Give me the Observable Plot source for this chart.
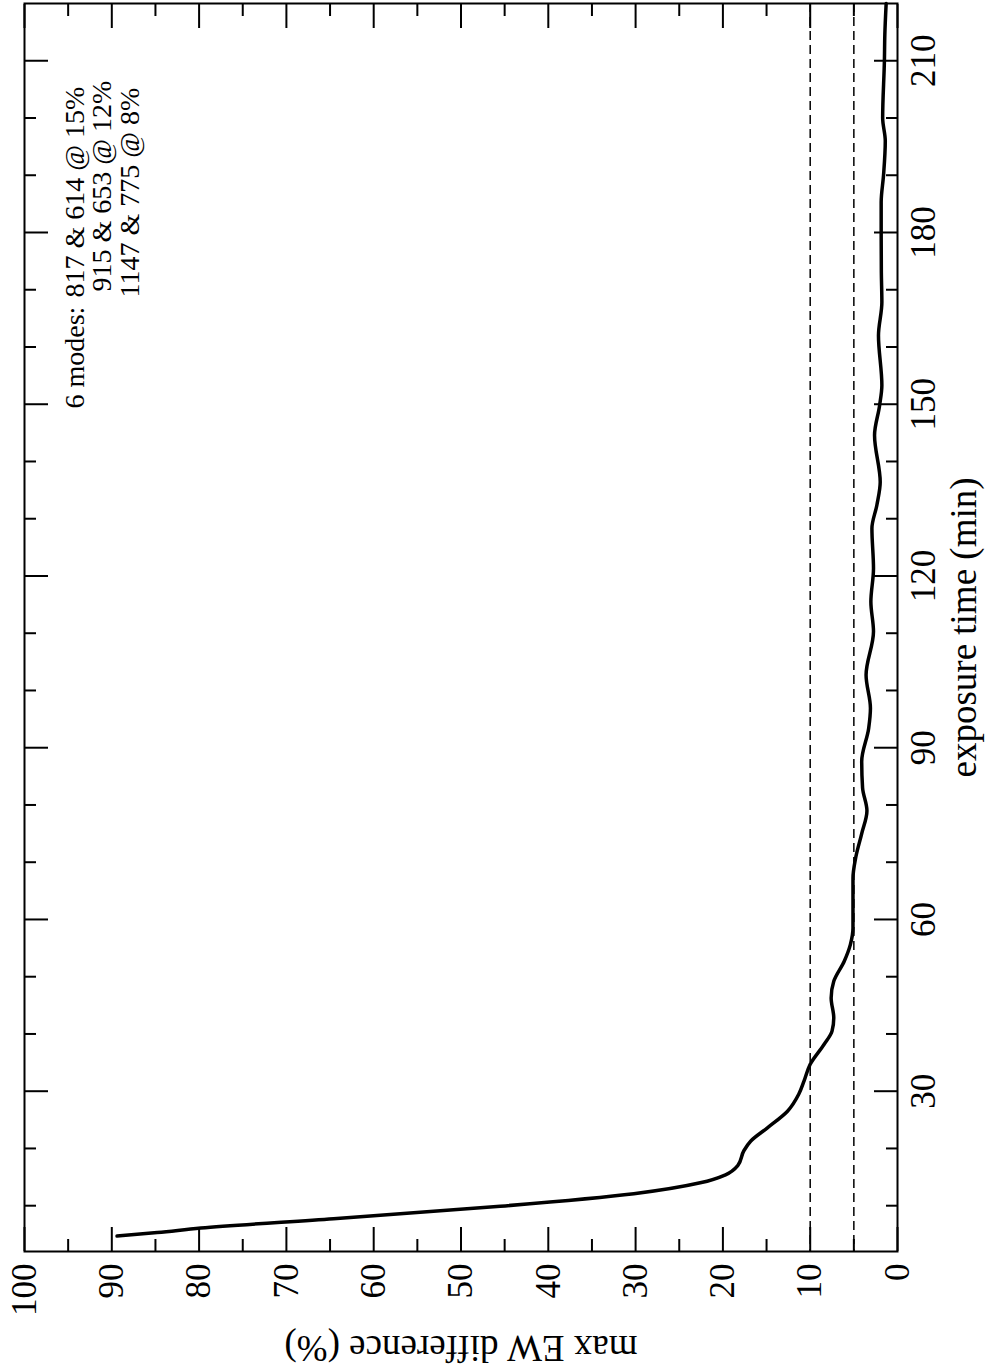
<!DOCTYPE html>
<html>
<head>
<meta charset="utf-8">
<script src="https://cdn.jsdelivr.net/npm/d3@7"></script>
<script src="https://cdn.jsdelivr.net/npm/@observablehq/plot@0.6"></script>
<style>
  html, body { margin: 0; padding: 0; background: white; }
  #chart svg { display: block; }
</style>
</head>
<body>
<div id="chart"></div>
<script>
// exposure time (min)
const timeMin = [4.7, 5.3, 6.1, 7.7, 9.9, 12.1, 14.0, 15.4, 17.0, 19.6, 21.3, 23.6, 26.5, 29.5, 31.8,
  34.7, 38.2, 40.5, 42.8, 46.3, 49.2, 52.7, 55.6, 58.5, 63.2, 67.2, 70.7, 75, 79, 83, 87.6,
  93.4, 96.9, 102.7, 110.3, 115.5, 121.3, 128.3, 132.4, 136.4, 144.6, 149.7, 153.3, 162.0,
  167.8, 173, 179.5, 185.3, 190, 196, 200, 210, 214.6, 220];
// max EW difference (%)
const maxEWDiff = [89.4, 84.8, 79.8, 64.6, 45.5, 30.2, 22.6, 19.7, 18.3, 17.6, 16.8, 14.9, 12.6, 11.3, 10.7,
  10.0, 8.4, 7.5, 7.3, 7.6, 7.3, 6.1, 5.4, 5.1, 5.1, 5.1, 4.8, 4.1, 3.5, 4.0, 4.1,
  3.3, 3.1, 3.6, 2.75, 3.05, 2.75, 2.93, 2.36, 1.98, 2.63, 2.06, 1.79, 2.18,
  1.79, 1.85, 1.87, 1.87, 1.6, 1.4, 1.7, 1.5, 1.45, 1.3];
const thresholds = [10, 5];
const ewMajorTicks = [0, 10, 20, 30, 40, 50, 60, 70, 80, 90, 100];
const ewMinorTicks = [5, 15, 25, 35, 45, 55, 65, 75, 85, 95];
const timeMajorTicks = [30, 60, 90, 120, 150, 180, 210];
const timeMinorTicks = [10, 20, 40, 50, 70, 80, 100, 110, 130, 140, 160, 170, 190, 200];
const xLabel = "max EW difference (%)";
const yLabel = "exposure time (min)";
const annotModes = "6 modes:";
const annotLines = ["817 & 614 @ 15%", "915 & 653 @ 12%", "1147 & 775 @ 8%"];

const data = timeMin.map((t, i) => ({t, ew: maxEWDiff[i]}));
const blank = () => "";
const font = "Liberation Serif, Times New Roman, serif";

const chart = Plot.plot({
  width: 986,
  height: 1371,
  marginLeft: 24,
  marginRight: 89,
  marginTop: 3,
  marginBottom: 120,
  style: {fontFamily: font, background: "white", color: "black"},
  x: {domain: [100, 0]},
  y: {domain: [2, 220]},
  marks: [
    Plot.ruleX(thresholds, {x: d => d, stroke: "black", strokeWidth: 1.5, strokeDasharray: "9,5"}),
    Plot.line(data, {x: "ew", y: "t", stroke: "black", strokeWidth: 3.5, curve: "monotone-y"}),
    // inward ticks, all four sides
    Plot.axisX(ewMajorTicks, {anchor: "bottom", tickSize: -24, strokeWidth: 2, tickFormat: blank, label: null}),
    Plot.axisX(ewMinorTicks, {anchor: "bottom", tickSize: -12, strokeWidth: 2, tickFormat: blank, label: null}),
    Plot.axisX(ewMajorTicks, {anchor: "top", tickSize: -24, strokeWidth: 2, tickFormat: blank, label: null}),
    Plot.axisX(ewMinorTicks, {anchor: "top", tickSize: -12, strokeWidth: 2, tickFormat: blank, label: null}),
    Plot.axisY(timeMajorTicks, {anchor: "right", tickSize: -24, strokeWidth: 2, tickFormat: blank, label: null}),
    Plot.axisY(timeMinorTicks, {anchor: "right", tickSize: -12, strokeWidth: 2, tickFormat: blank, label: null}),
    Plot.axisY(timeMajorTicks, {anchor: "left", tickSize: -24, strokeWidth: 2, tickFormat: blank, label: null}),
    Plot.axisY(timeMinorTicks, {anchor: "left", tickSize: -12, strokeWidth: 2, tickFormat: blank, label: null}),
    // tick labels
    Plot.axisX(ewMajorTicks, {anchor: "bottom", tickSize: 0, tickPadding: 12, tickRotate: -90,
      textAnchor: "end", lineAnchor: "middle", fontSize: 35, fill: "black", label: null}),
    Plot.axisY(timeMajorTicks, {anchor: "right", tickSize: 0, tickPadding: 13, tickRotate: -90,
      textAnchor: "middle", lineAnchor: "top", fontSize: 35, fill: "black", label: null}),
    // axis titles
    Plot.text([xLabel], {text: d => d, frameAnchor: "bottom", rotate: 180, dy: 84,
      lineAnchor: "bottom", textAnchor: "middle", fontSize: 37, fill: "black"}),
    Plot.text([yLabel], {text: d => d, frameAnchor: "right", rotate: -90, dx: 78,
      lineAnchor: "bottom", textAnchor: "middle", fontSize: 37, fill: "black"}),
    // annotation
    Plot.text([annotModes], {text: d => d, frameAnchor: "top-left", rotate: -90, dx: 59, dy: 405,
      lineAnchor: "bottom", textAnchor: "start", fontSize: 28, fill: "black"}),
    Plot.text([annotLines[0]], {text: d => d, frameAnchor: "top-left", rotate: -90, dx: 59, dy: 294,
      lineAnchor: "bottom", textAnchor: "start", fontSize: 28, fill: "black"}),
    Plot.text([annotLines[1]], {text: d => d, frameAnchor: "top-left", rotate: -90, dx: 86, dy: 288,
      lineAnchor: "bottom", textAnchor: "start", fontSize: 28, fill: "black"}),
    Plot.text([annotLines[2]], {text: d => d, frameAnchor: "top-left", rotate: -90, dx: 114, dy: 294,
      lineAnchor: "bottom", textAnchor: "start", fontSize: 28, fill: "black"}),
    Plot.frame({stroke: "black", strokeWidth: 2})
  ]
});
document.getElementById("chart").appendChild(chart);
</script>
</body>
</html>
